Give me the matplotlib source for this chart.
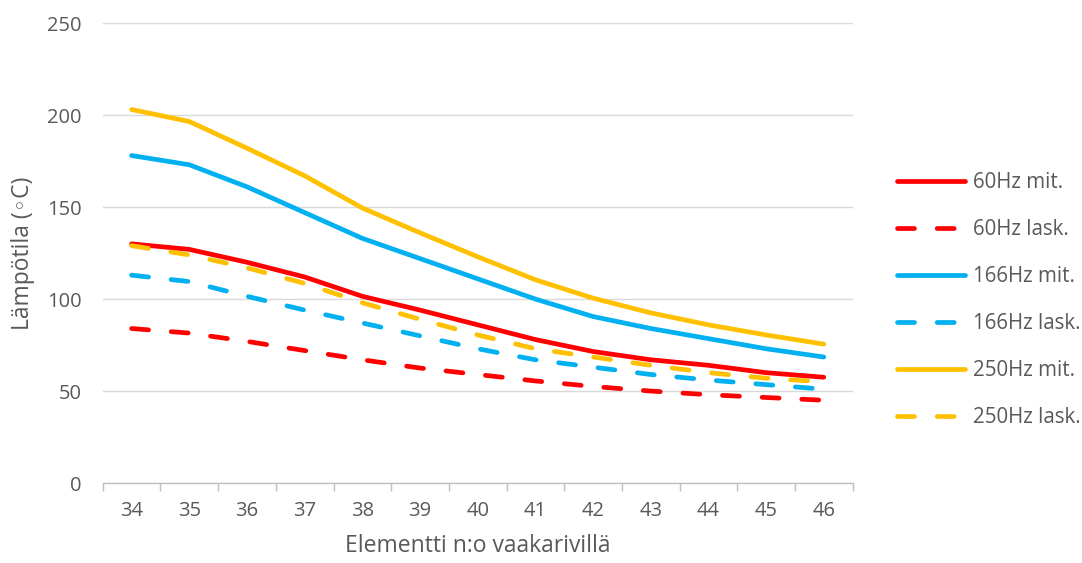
import matplotlib.pyplot as plt
import numpy as np

# category labels (element number)
elements = ['34', '35', '36', '37', '38', '39', '40', '41', '42', '43', '44', '45', '46']

# measured / calculated temperatures (°C)
hz60_mit = [130, 127, 120, 112, 101.5, 94, 86, 78, 71.5, 67, 64, 60, 57.5]
hz60_lask = [84, 81.5, 77, 72, 67, 62.5, 59, 55.5, 52.5, 50, 48, 46.5, 45]
hz166_mit = [178, 173, 161, 147, 133, 122, 111, 100, 90.5, 84, 78.5, 73, 68.5]
hz166_lask = [113, 109.5, 101.5, 94, 87, 80, 73, 67, 63, 59, 56, 53.5, 51]
hz250_mit = [203, 196.5, 182, 167, 149.5, 136, 123, 110.5, 100.5, 92.5, 86, 80.5, 75.5]
hz250_lask = [129, 124, 117, 108.5, 98, 89, 80.5, 73, 68.5, 64, 60, 57, 55]

RED = '#FF0000'
BLUE = '#00B0F0'
YELLOW = '#FFC000'
GREY = '#595959'

plt.rcParams['font.family'] = ['Open Sans', 'DejaVu Sans']

fig = plt.figure(figsize=(10.82, 5.63), dpi=100)
ax = fig.add_axes([0.095, 0.142, 0.693, 0.817])

x = np.arange(len(elements))
lw = 3.4
dash = (0, (3.6, 4.8))

series = [
    (hz60_mit, RED, '-', '60Hz mit.'),
    (hz60_lask, RED, dash, '60Hz lask.'),
    (hz166_mit, BLUE, '-', '166Hz mit.'),
    (hz166_lask, BLUE, dash, '166Hz lask.'),
    (hz250_mit, YELLOW, '-', '250Hz mit.'),
    (hz250_lask, YELLOW, dash, '250Hz lask.'),
]
for vals, col, ls, lab in series:
    ax.plot(x, vals, color=col, linestyle=ls, linewidth=lw, label=lab,
            solid_capstyle='round', dash_capstyle='round', solid_joinstyle='round')

ax.set_xlim(-0.5, len(elements) - 0.5)
ax.set_ylim(0, 250)
ax.set_yticks(np.arange(0, 251, 50))
ax.set_xticks(x)
ax.set_xticklabels(elements)
ax.set_xticks(np.arange(-0.5, len(elements), 1), minor=True)

ax.grid(axis='y', color='#D9D9D9', linewidth=1.0)
ax.set_axisbelow(True)
for s in ['top', 'right', 'left']:
    ax.spines[s].set_visible(False)
ax.spines['bottom'].set_color('#BFBFBF')
ax.spines['bottom'].set_linewidth(1.0)

fs = 14.5
ax.tick_params(axis='x', which='major', length=0, pad=13, labelsize=fs, labelcolor=GREY)
ax.tick_params(axis='x', which='minor', length=6, color='#BFBFBF', width=1.0)
ax.tick_params(axis='y', length=0, pad=15, labelsize=fs, labelcolor=GREY)

ax.set_xlabel('Elementti n:o vaakarivillä', fontsize=16.5, color=GREY, labelpad=9)
ax.set_ylabel('Lämpötila (◦C)', fontsize=16.5, color=GREY, labelpad=9)

ax.legend(loc='center left', bbox_to_anchor=(1.035, 0.398), frameon=False,
          fontsize=14.8, labelcolor=GREY, handlelength=3.3, handletextpad=0.4,
          labelspacing=1.27)

fig.savefig('out.png', dpi=100)
